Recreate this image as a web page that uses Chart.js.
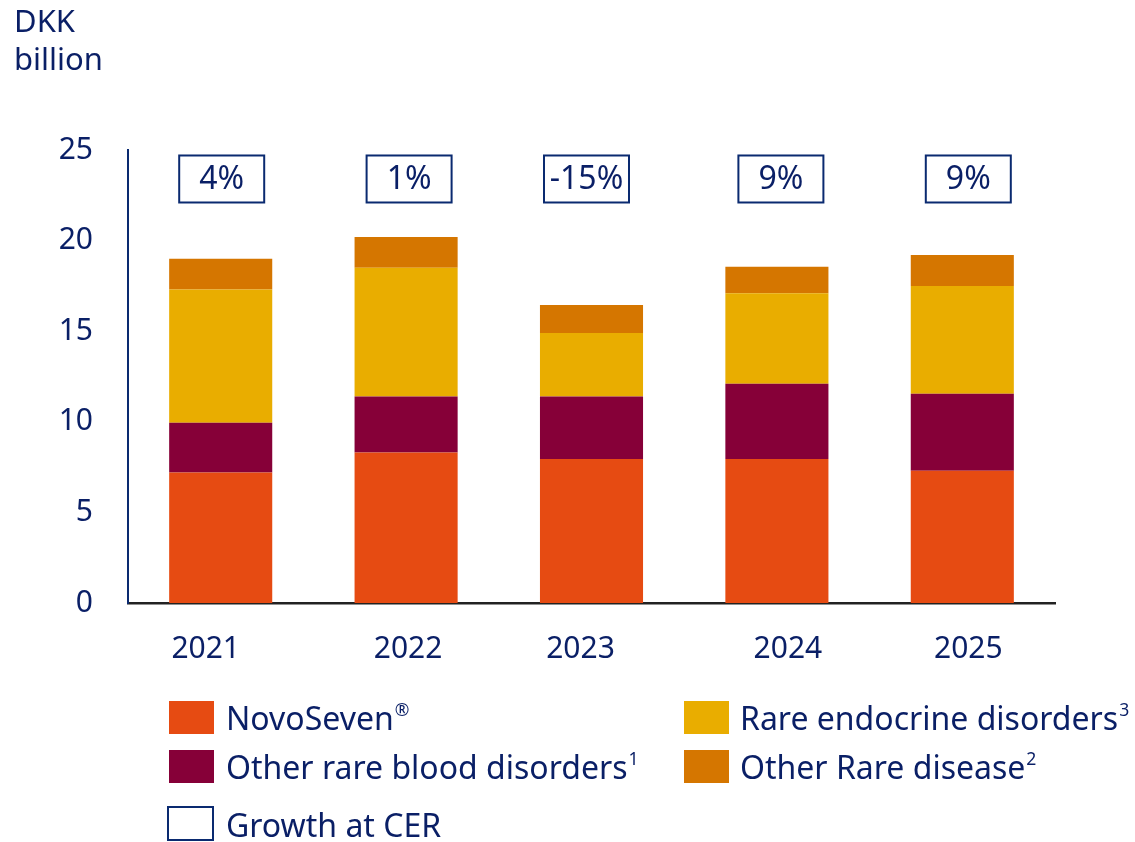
<!DOCTYPE html>
<html>
<head>
<meta charset="utf-8">
<script src="https://cdn.jsdelivr.net/npm/chart.js@4.4.1/dist/chart.umd.min.js"></script>
<style>
  html, body { margin: 0; padding: 0; background: #fff; }
  body { width: 1135px; height: 842px; position: relative; overflow: hidden; font-family: "Noto Sans", "Open Sans", sans-serif; color: #0a1f66; }
  #wrap { position: absolute; left: 0; top: 0; width: 1135px; height: 842px; }
  .ytitle { position: absolute; left: 14px; top: 1px; font-size: 31px; line-height: 38px; }
  .leg { position: absolute; font-size: 32px; line-height: 34px; white-space: nowrap; }
  .sw { position: absolute; width: 45px; height: 33px; }
  .leg sup { font-size: 55%; vertical-align: 0; position: relative; top: -0.8em; margin-left: 1px; }
</style>
</head>
<body>
<div id="wrap"><canvas id="c" width="1135" height="842"></canvas></div>
<div class="ytitle">DKK<br>billion</div>

<div class="sw" style="left:169px; top:701px; background:#e64b12;"></div>
<div class="leg" style="left:226px; top:701px;">NovoSeven<sup>®</sup></div>
<div class="sw" style="left:684px; top:701px; background:#e9ad00;"></div>
<div class="leg" style="left:740px; top:701px;">Rare endocrine disorders<sup>3</sup></div>
<div class="sw" style="left:169px; top:750px; background:#860038;"></div>
<div class="leg" style="left:226px; top:750px;">Other rare blood disorders<sup>1</sup></div>
<div class="sw" style="left:684px; top:750px; background:#d57600;"></div>
<div class="leg" style="left:740px; top:750px;">Other Rare disease<sup>2</sup></div>
<div class="sw" style="left:167px; top:806px; width:43px; height:31px; border:2px solid #0a2a70; background:#fff;"></div>
<div class="leg" style="left:226px; top:808px;">Growth at CER</div>

<script>
const years = ['2021', '2022', '2023', '2024', '2025'];
const novoSeven = [7.2, 8.3, 7.95, 7.95, 7.3];
const otherRareBlood = [2.75, 3.1, 3.45, 4.15, 4.25];
const rareEndocrine = [7.35, 7.1, 3.5, 5.0, 5.95];
const otherRareDisease = [1.7, 1.7, 1.55, 1.45, 1.7];
const growthCER = ['4%', '1%', '-15%', '9%', '9%'];
const yTicks = [0, 5, 10, 15, 20, 25];

const NAVY = '#0a1f66';
const FONT = '"Noto Sans", "Open Sans", sans-serif';
// small horizontal nudges of the year labels and growth boxes, as in the original layout
const labelNudge = [-15, 2, -11, 11, 6];
const boxNudge = [1, 3, -5, 4, 6];

const growthBoxes = {
  id: 'growthBoxes',
  afterDatasetsDraw(chart) {
    const ctx = chart.ctx;
    const xs = chart.scales.x, ys = chart.scales.y;
    const yc = ys.getPixelForValue(23.4);
    ctx.save();
    growthCER.forEach((g, i) => {
      const xc = xs.getPixelForValue(i) + boxNudge[i];
      const w = 85, h = 47;
      ctx.fillStyle = '#fff';
      ctx.fillRect(xc - w / 2, yc - h / 2, w, h);
      ctx.strokeStyle = '#0a2a70';
      ctx.lineWidth = 2;
      ctx.strokeRect(xc - w / 2, yc - h / 2, w, h);
      ctx.fillStyle = NAVY;
      ctx.font = '32px ' + FONT;
      ctx.textAlign = 'center';
      ctx.textBaseline = 'middle';
      ctx.fillText(g, xc, yc + 1);
    });
    // year labels
    const ybase = xs.top + 46;
    ctx.font = '30px ' + FONT;
    ctx.fillStyle = NAVY;
    ctx.textAlign = 'center';
    ctx.textBaseline = 'middle';
    years.forEach((y, i) => {
      ctx.fillText(y, xs.getPixelForValue(i) + labelNudge[i], ybase);
    });
    ctx.restore();
  }
};

new Chart(document.getElementById('c'), {
  type: 'bar',
  data: {
    labels: years,
    datasets: [
      { label: 'NovoSeven®', data: novoSeven, backgroundColor: '#e64b12' },
      { label: 'Other rare blood disorders', data: otherRareBlood, backgroundColor: '#860038' },
      { label: 'Rare endocrine disorders', data: rareEndocrine, backgroundColor: '#e9ad00' },
      { label: 'Other Rare disease', data: otherRareDisease, backgroundColor: '#d57600' }
    ]
  },
  options: {
    responsive: false,
    animation: false,
    devicePixelRatio: 1,
    layout: { padding: { left: 0, right: 80, top: 150, bottom: 0 } },
    datasets: { bar: { categoryPercentage: 1, barPercentage: 0.556, borderWidth: 0 } },
    plugins: { legend: { display: false }, tooltip: { enabled: false } },
    scales: {
      x: {
        stacked: true,
        grid: { display: false },
        border: { display: true, color: '#222', width: 2.5 },
        ticks: { display: false },
        afterFit(scale) { scale.height = 239; }
      },
      y: {
        stacked: true,
        min: 0, max: 25,
        grid: { display: false },
        border: { display: true, color: '#0a2a70', width: 2 },
        afterBuildTicks(scale) { scale.ticks = yTicks.map(v => ({ value: v })); },
        ticks: { color: NAVY, font: { family: FONT, size: 30 }, padding: 27 },
        afterFit(scale) { scale.width = 128; }
      }
    }
  },
  plugins: [growthBoxes]
});
</script>
</body>
</html>
